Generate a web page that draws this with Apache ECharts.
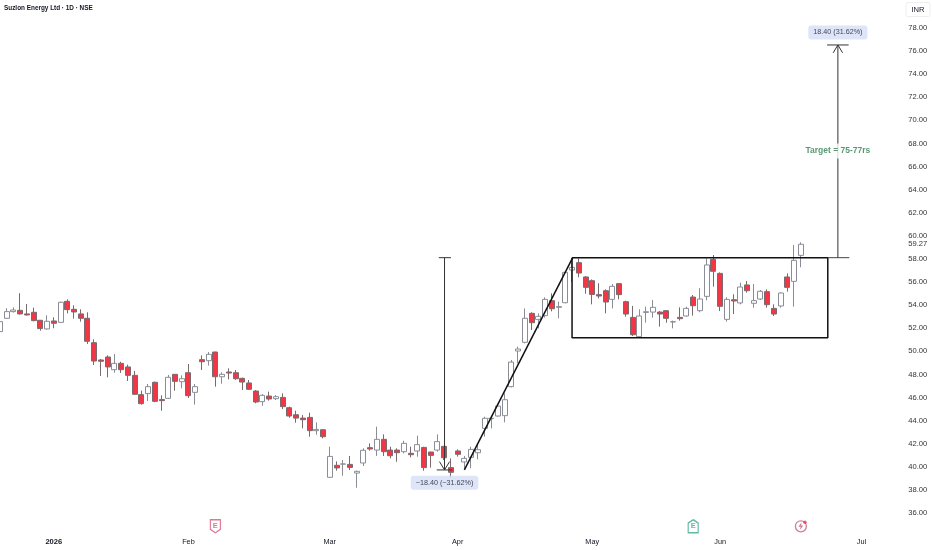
<!DOCTYPE html>
<html><head><meta charset="utf-8">
<style>html,body{margin:0;padding:0;background:#fff}#c{width:932px;height:550px}</style>
<script src="https://cdn.jsdelivr.net/npm/echarts@6/dist/echarts.min.js"></script>
</head><body><div id="c"></div>
<script>
const title = 'Suzlon Energy Ltd · 1D · NSE';
const opens = [51.71,52.86,53.44,53.55,53.24,53.38,52.69,51.94,52.63,52.51,54.33,53.64,53.24,52.86,50.75,49.25,49.51,48.41,48.96,48.65,47.92,46.25,46.34,47.32,45.82,45.93,
 48.01,47.37,48.15,46.45,49.28,49.19,49.94,47.8,48.21,48.15,47.66,47.26,46.56,45.64,46.13,45.9,46.01,45.12,44.51,44.22,44.28,43.13,43.21,39.09,40.13,
 40.23,40.21,39.46,40.33,41.66,41.45,42.38,41.45,41.45,41.31,41.17,41.37,41.68,41.28,41.45,41.77,39.93,41.37,40.42,40.82,41.22,43.33,44.17,44.4,44.43,46.94,50.03,50.78,53.29,52.77,53.09,54.39,53.81,54.21,57.04,57.68,56.44,56.12,
 54.91,55.25,54.5,55.86,54.3,52.94,51.27,53.37,53.4,53.4,53.52,52.54,52.94,53.06,54.7,53.52,54.76,57.97,56.75,52.77,54.47,54.19,55.75,54.16,54.53,55.17,53.72,53.93,56.44,56.06,58.31];
const closes = [52.57,53.44,53.58,53.24,53.15,52.66,51.97,52.6,52.43,54.25,53.61,53.41,52.86,50.87,49.16,49.14,48.65,48.96,48.41,47.92,46.28,45.47,46.94,45.67,45.73,47.75,
 47.4,47.63,46.16,46.94,49.1,49.74,47.8,48.01,48.12,47.63,47.34,46.71,45.61,46.19,45.87,46.07,45.21,44.4,44.22,44.08,43.13,43.24,42.61,40.9,39.9,
 40.25,39.95,39.61,41.43,41.54,42.38,41.31,40.96,41.22,42.03,41.05,41.92,39.93,40.99,42.18,40.79,39.52,41.08,40.73,41.51,41.48,44.2,44.2,45.26,45.81,49.07,50.2,52.86,52.48,53.03,54.5,53.69,53.87,56.84,57.27,56.78,55.54,54.93,
 54.79,54.27,55.63,54.91,53.23,51.44,53.06,53.43,53.81,53.23,52.86,52.57,52.83,53.72,53.95,54.53,57.48,56.93,53.9,54.5,54.36,55.57,55.25,54.39,55.2,54.04,53.23,55.05,55.54,57.88,59.27];
const lows = [51.4,52.8,53.35,53.18,53.1,52.6,51.79,51.88,52.0,52.46,53.29,52.83,52.57,50.64,48.82,47.87,47.75,48.15,48.13,47.43,46.22,45.38,45.7,45.59,44.86,45.87,
 46.59,46.79,45.96,45.38,48.38,48.76,46.94,47.2,47.57,47.52,46.65,46.65,45.5,45.29,45.73,45.78,45.0,44.25,43.82,43.33,42.61,42.78,42.46,39.09,39.66,
 39.23,39.72,38.19,40.07,41.4,40.94,40.94,40.73,40.44,41.17,40.82,40.88,39.66,39.93,41.31,40.59,39.09,40.88,39.87,39.87,40.65,42.61,43.33,44.34,43.85,46.88,48.96,50.69,51.85,51.99,52.92,53.46,52.86,54.16,56.0,56.41,54.99,54.07,
 54.59,53.29,53.72,54.5,53.0,51.33,51.21,52.48,52.92,52.14,52.48,51.99,52.66,53.0,53.09,53.38,54.42,55.6,53.49,52.57,53.23,54.07,55.08,53.78,54.45,53.78,53.06,53.78,55.17,53.87,57.28];
const highs = [52.7,53.73,53.81,55.03,54.1,53.78,52.7,53.12,52.95,54.3,54.5,53.99,53.64,53.38,51.04,49.34,49.66,49.77,49.1,48.85,48.3,46.6,47.17,47.38,46.19,47.95,
 48.02,47.92,48.9,47.17,49.65,49.94,49.97,48.18,48.53,48.38,47.72,47.52,46.65,46.3,46.51,46.22,46.36,45.21,44.86,44.48,44.69,43.85,43.27,41.74,40.47,
 40.59,40.94,39.67,41.6,42.03,43.48,42.81,41.74,41.6,42.26,41.74,42.7,41.74,41.3,42.81,41.8,40.73,41.51,40.94,41.74,41.89,44.34,44.3,45.35,46.36,49.25,50.4,53.72,53.38,53.29,54.68,55.02,54.3,56.9,57.76,58.05,56.52,56.23,
 55.89,55.37,55.83,55.89,54.39,53.93,53.64,53.87,54.44,53.49,53.58,52.66,53.81,53.87,54.88,55.46,58.05,58.34,56.84,54.68,54.94,55.95,56.09,55.83,55.31,55.37,54.07,55.11,56.75,59.21,59.44];

const priceTicks = [36,38,40,42,44,46,48,50,52,54,56,58,59.27,60,62,64,66,68,70,72,74,76,78];
const monthTicks = {8:'2026',28:'Feb',49:'Mar',68:'Apr',88:'May',107:'Jun',128:'Jul'};
const slotCount = 135;
const categories = Array.from({length:slotCount},(_,i)=>String(i));

const rectLine = [[85,58.11],[123,58.11],[123,51.18],[85,51.18],[85,58.11]];
const topExtension = [[123,58.11],[126.2,58.11]];
const trendLine = [[69,39.73],[85.1,58.11]];
const upMeasure = [[124.5,58.11],[124.5,76.53]];
const upCap = [[122.9,76.53],[126.1,76.53]];
const upHead = [[123.8,75.85],[124.5,76.53],[125.2,75.85]];
const downMeasure = [[66.05,58.11],[66.05,39.73]];
const downTopCap = [[65.2,58.11],[67,58.11]];
const downCap = [[64.9,39.73],[67.2,39.73]];
const downHead = [[65.3,40.45],[66.05,39.73],[66.8,40.45]];
const labelUp = [[124.5,77.62,'18.40 (31.62%)']];
const labelDown = [[66.05,38.62,'−18.40 (−31.62%)']];
const labelTarget = [[124.5,67.35,'Target = 75-77rs']];
const earnings = [[32,34.85,'E','#d9527a','path://M1 1H15V15L8 20L1 15Z'],[103,34.85,'E','#3aa88a','path://M8 0L15 5V20H1V5Z']];
const boltAt = [[119,34.85]];
const boltDot = [[119.6,35.2]];

const fg='#131722';
const sans='"Liberation Sans"';
function drawing(data,color,width){return {type:'line',xAxisIndex:1,yAxisIndex:0,data,symbol:'none',silent:true,clip:false,
  lineStyle:{color:color||'#111',width:width||1},z:5};}
function tag(row,bg,color,weight,fontSize,pad){return {type:'scatter',xAxisIndex:1,yAxisIndex:0,symbolSize:0,silent:true,z:10,
  data:[{value:[row[0][0],row[0][1]],label:{show:true,position:'inside',formatter:row[0][2],color,fontWeight:weight,fontSize,fontFamily:sans,
  backgroundColor:bg,padding:pad,borderRadius:3}}]};}

const chart = echarts.init(document.getElementById('c'),null,{renderer:'canvas'});
chart.setOption({
  animation:false,backgroundColor:'#fff',
  title:{text:title,left:4,top:5,padding:0,textStyle:{fontSize:6.4,fontWeight:'bold',color:fg,fontFamily:sans}},
  grid:{left:-3.365,width:6.73*slotCount,top:4.9,height:531.2,containLabel:false,outerBoundsMode:'none'},
  xAxis:[{type:'category',data:categories,boundaryGap:true,axisLine:{show:false},axisTick:{show:false},splitLine:{show:false},
      axisLabel:{interval:0,margin:2,hideOverlap:false,fontSize:7.3,color:fg,fontFamily:sans,
        formatter:(v,i)=>monthTicks[i]?monthTicks[i]==='2026'?'{b|2026}':monthTicks[i]:'',rich:{b:{fontWeight:'bold',fontSize:7.6,color:fg,fontFamily:sans}}}},
    {type:'value',min:-0.5,max:slotCount-0.5,show:false}],
  yAxis:[{type:'value',min:34,max:80,interval:2,position:'right',axisLine:{show:false},axisTick:{show:false},splitLine:{show:false},
      axisLabel:{customValues:priceTicks,margin:3,fontSize:7.6,color:'#333',fontFamily:sans,formatter:v=>v.toFixed(2)}}],
  graphic:[{type:'rect',shape:{x:906,y:2.5,width:24,height:14,r:2},style:{fill:'#fff',stroke:'#eee',lineWidth:1}},
    {type:'text',x:918,y:9.5,style:{text:'INR',font:'7.6px "Liberation Sans"',fill:fg,textAlign:'center',textVerticalAlign:'middle'},z:5}],
  series:[
    {type:'candlestick',xAxisIndex:0,yAxisIndex:0,barWidth:5.5,clip:false,
      data:opens.map((o,i)=>[o,closes[i],lows[i],highs[i]]),
      itemStyle:{color:'#ffffff',color0:'#f23645',borderColor:'#8a8d96',borderColor0:'#7a6a6e',borderWidth:1}},
    drawing(rectLine,'#111',1.5),drawing(trendLine,'#111',1.5),drawing(topExtension,'#444',1),
    drawing(upMeasure,'#333',1),drawing(upCap,'#333',1),drawing(upHead,'#333',1),
    drawing(downMeasure,'#333',1),drawing(downTopCap,'#333',1),drawing(downCap,'#333',1),drawing(downHead,'#333',1),
    tag(labelUp,'#d6dff8',fg,'normal',7.2,[3.5,5]),
    tag(labelDown,'#d6dff8',fg,'normal',7.2,[3.5,5]),
    tag(labelTarget,'#fff','#2f7d4f','bold',8.5,[3,1]),
    {type:'scatter',xAxisIndex:1,yAxisIndex:0,silent:true,z:8,
      data:earnings.map(e=>({value:[e[0],e[1]],symbol:e[4],symbolSize:[10,13],
        itemStyle:{color:'#fff',borderColor:e[3],borderWidth:1.3},
        label:{show:true,position:'inside',formatter:e[2],color:e[3],fontSize:7.5,fontWeight:'bold',fontFamily:sans}}))},
    {type:'scatter',xAxisIndex:1,yAxisIndex:0,silent:true,z:8,symbol:'circle',symbolSize:11,
      itemStyle:{color:'#fff',borderColor:'#c2607f',borderWidth:1.3},data:boltAt},
    {type:'scatter',xAxisIndex:1,yAxisIndex:0,silent:true,z:9,symbol:'path://M9 0L2 11H7L5 20L13 8H8Z',symbolSize:[5,8],
      itemStyle:{color:'#c2607f'},data:boltAt},
    {type:'scatter',xAxisIndex:1,yAxisIndex:0,silent:true,z:9,symbol:'circle',symbolSize:3.5,
      itemStyle:{color:'#f23645'},data:boltDot}
  ]
});
</script></body></html>
